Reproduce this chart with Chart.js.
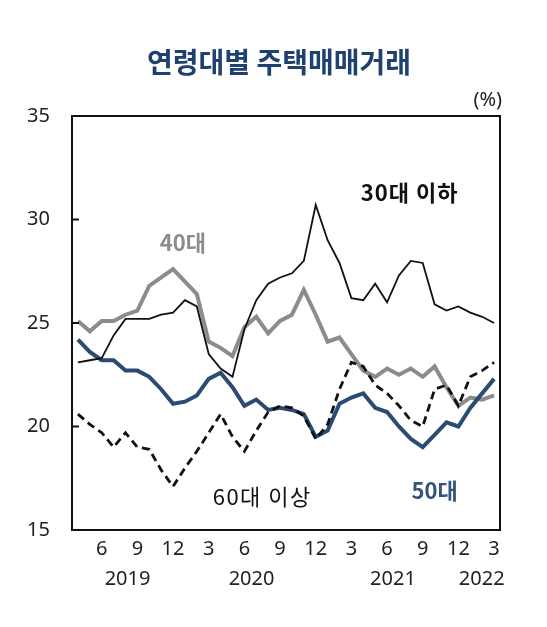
<!DOCTYPE html>
<html>
<head>
<meta charset="utf-8">
<script src="https://cdn.jsdelivr.net/npm/chart.js@4/dist/chart.umd.min.js"></script>
<style>
  html, body { margin: 0; padding: 0; background: #ffffff; }
  #wrap { position: relative; width: 547px; height: 627px; }
</style>
</head>
<body>
<div id="wrap"><canvas id="c" width="547" height="627"></canvas></div>
<script>
// ---- data ----
const months = [
  '2019.4','2019.5','2019.6','2019.7','2019.8','2019.9','2019.10','2019.11','2019.12',
  '2020.1','2020.2','2020.3','2020.4','2020.5','2020.6','2020.7','2020.8','2020.9','2020.10','2020.11','2020.12',
  '2021.1','2021.2','2021.3','2021.4','2021.5','2021.6','2021.7','2021.8','2021.9','2021.10','2021.11','2021.12',
  '2022.1','2022.2','2022.3'
];
const seriesNames = ['30대 이하', '40대', '50대', '60대 이상'];
const age30under = [23.1,23.2,23.3,24.4,25.2,25.2,25.2,25.4,25.5,26.1,25.8,23.5,22.8,22.4,24.7,26.1,26.9,27.2,27.4,28.0,30.7,29.0,27.9,26.2,26.1,26.9,26.0,27.3,28.0,27.9,25.9,25.6,25.8,25.5,25.3,25.0];
const age40 = [25.1,24.6,25.1,25.1,25.4,25.6,26.8,27.2,27.6,27.0,26.4,24.1,23.8,23.4,24.8,25.3,24.5,25.1,25.4,26.6,25.4,24.1,24.3,23.5,22.7,22.4,22.8,22.5,22.8,22.4,22.9,21.9,21.0,21.4,21.3,21.5];
const age50 = [24.2,23.6,23.2,23.2,22.7,22.7,22.4,21.8,21.1,21.2,21.5,22.3,22.6,21.9,21.0,21.3,20.8,20.9,20.8,20.6,19.5,19.8,21.1,21.4,21.6,20.9,20.7,20.0,19.4,19.0,19.6,20.2,20.0,20.9,21.6,22.3];
const age60over = [20.6,20.1,19.7,19.0,19.7,19.0,18.9,17.9,17.1,18.0,18.8,19.7,20.6,19.5,18.8,19.8,20.7,21.0,20.9,20.5,19.4,20.1,21.8,23.1,22.9,22.0,21.6,21.0,20.3,20.0,21.8,22.0,21.0,22.4,22.7,23.1];
const yTicks = [15, 20, 25, 30, 35];
const yearLabels = ['2019', '2020', '2021', '2022'];
const titleText = '연령대별 주택매매거래';
const unitText = '(%)';

// ---- styling / layout (not data) ----
const FONT = "'Noto Sans', 'Noto Sans CJK KR', sans-serif";
const KFONT = "'Noto Sans CJK KR', 'Noto Sans', sans-serif";
const yearAnchor = [4.17, 14.6, 26.5, 33.96];   // category-index positions of the year captions
// caption anchors: [category index, axis value]
const captionAt = [[27.9, 31.3], [8.83, 28.9], [30.0, 16.9], [15.5, 16.6]];

const overlay = {
  id: 'overlay',
  afterDatasetsDraw(chart) {
    const ctx = chart.ctx;
    const a = chart.chartArea;
    const xs = chart.scales.x, ys = chart.scales.y;
    ctx.save();
    // frame
    ctx.strokeStyle = '#111';
    ctx.lineWidth = 2;
    ctx.strokeRect(a.left, a.top, a.right - a.left, a.bottom - a.top);
    // inward y ticks
    yTicks.forEach(v => {
      if (v === yTicks[0] || v === yTicks[yTicks.length - 1]) return;
      const y = ys.getPixelForValue(v);
      ctx.beginPath();
      ctx.moveTo(a.left, y);
      ctx.lineTo(a.left + 7, y);
      ctx.stroke();
    });
    // series captions
    ctx.textAlign = 'center';
    ctx.textBaseline = 'middle';
    const styles = [
      ["bold 22px " + KFONT, '#111', '1px'],
      ["bold 22px " + KFONT, '#8c8c8c', '0px'],
      ["bold 22px " + KFONT, '#33557d', '0px'],
      ["22px " + KFONT, '#111', '1.5px']
    ];
    seriesNames.forEach((t, i) => {
      ctx.font = styles[i][0];
      ctx.fillStyle = styles[i][1];
      if ('letterSpacing' in ctx) ctx.letterSpacing = styles[i][2];
      ctx.fillText(t, xs.getPixelForValue(captionAt[i][0]), ys.getPixelForValue(captionAt[i][1]));
    });
    if ('letterSpacing' in ctx) ctx.letterSpacing = '0px';
    ctx.restore();
  },
  afterDraw(chart) {
    const ctx = chart.ctx;
    const xs = chart.scales.x;
    ctx.save();
    // title
    ctx.textAlign = 'center';
    ctx.textBaseline = 'middle';
    ctx.fillStyle = '#1e416f';
    ctx.font = "bold 28px " + KFONT;
    ctx.fillText(titleText, 279, 62);
    // unit
    ctx.fillStyle = '#222';
    ctx.font = "20px " + FONT;
    ctx.textAlign = 'right';
    ctx.fillText(unitText, 502, 100);
    // years
    ctx.textAlign = 'center';
    ctx.font = "20px " + FONT;
    yearLabels.forEach((t, i) => {
      ctx.fillText(t, xs.getPixelForValue(yearAnchor[i]), 579);
    });
    ctx.restore();
  }
};

new Chart(document.getElementById('c'), {
  type: 'line',
  data: {
    labels: months,
    datasets: [
      { label: seriesNames[0], data: age30under, borderColor: '#111111', borderWidth: 1.8, order: 1 },
      { label: seriesNames[1], data: age40, borderColor: '#8c8c8c', borderWidth: 4, order: 3 },
      { label: seriesNames[2], data: age50, borderColor: '#2b4b72', borderWidth: 4, order: 2 },
      { label: seriesNames[3], data: age60over, borderColor: '#111111', borderWidth: 2.8, borderDash: [8, 5], order: 0 }
    ]
  },
  options: {
    responsive: false,
    animation: false,
    devicePixelRatio: 1,
    layout: { padding: { top: 116, right: 47, left: 0, bottom: 0 } },
    elements: {
      point: { radius: 0, hoverRadius: 0 },
      line: { tension: 0, fill: false, borderCapStyle: 'butt', borderJoinStyle: 'miter' }
    },
    plugins: {
      legend: { display: false },
      title: { display: false },
      tooltip: { enabled: false }
    },
    scales: {
      x: {
        type: 'category',
        offset: true,
        grid: { display: false, drawTicks: false },
        border: { display: false },
        afterFit(s) { s.height = 97; },
        ticks: {
          autoSkip: false,
          maxRotation: 0,
          padding: 7,
          color: '#222',
          font: { family: FONT, size: 20 },
          callback(v) {
            const m = parseInt(String(months[v]).split('.')[1], 10);
            return m % 3 === 0 ? String(m) : '';
          }
        }
      },
      y: {
        min: 15,
        max: 35,
        grid: { display: false, drawTicks: false },
        border: { display: false },
        afterFit(s) { s.width = 72; },
        afterBuildTicks(s) { s.ticks = yTicks.map(v => ({ value: v })); },
        ticks: {
          padding: 22,
          color: '#222',
          font: { family: FONT, size: 20 }
        }
      }
    }
  },
  plugins: [overlay]
});
</script>
</body>
</html>
